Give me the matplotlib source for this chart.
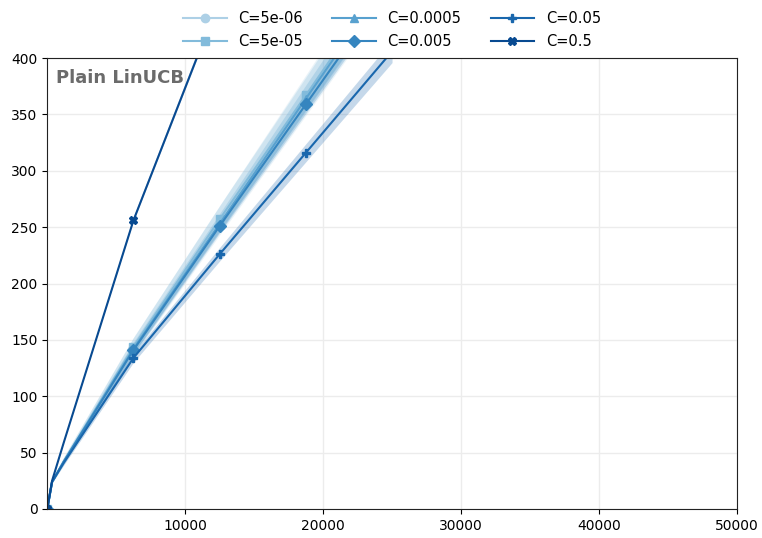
import numpy as np
import matplotlib
matplotlib.use('Agg')
import matplotlib.pyplot as plt

# checkpoints (time steps) and mean regret per exploration constant
steps = [0, 350, 1200, 6250, 12500, 18750, 25000]
labels = ['C=5e-06', 'C=5e-05', 'C=0.0005', 'C=0.005', 'C=0.05', 'C=0.5']
regret_5e6 = [0, 24, 42, 143, 255, 366, 477]
regret_5e5 = [0, 24, 42, 144, 257, 367, 478]
regret_5e4 = [0, 24, 42, 142, 253, 364, 474]
regret_5e3 = [0, 24, 42, 141, 251, 359, 467]
regret_5e2 = [0, 24, 41, 134, 226, 316, 406]
regret_5e1 = [0, 25, 59, 256, 452, 640, 830]
std_5e6 = [0, 1, 3, 8, 13, 18, 23]
std_5e5 = [0, 1, 3, 7, 11, 15, 19]
std_5e4 = [0, 1, 2, 5, 8, 11, 14]
std_5e3 = [0, 1, 2, 4, 6, 8, 10]
std_5e2 = [0, 1, 2, 4, 6, 8, 10]
std_5e1 = [0, 1, 1, 2, 3, 4, 5]

means = [regret_5e6, regret_5e5, regret_5e4, regret_5e3, regret_5e2, regret_5e1]
stds = [std_5e6, std_5e5, std_5e4, std_5e3, std_5e2, std_5e1]
markers = ['o', 's', '^', 'D', 'P', 'X']
colors = plt.cm.Blues(np.linspace(0.33, 0.9, 6))

fig, ax = plt.subplots(figsize=(7.62, 5.38), dpi=100)
fig.subplots_adjust(left=0.062, right=0.967, bottom=0.054, top=0.892)

x = np.array(steps)
for m, s, lab, mk, c in zip(means, stds, labels, markers, colors):
    m = np.array(m, dtype=float)
    s = np.array(s, dtype=float)
    ax.fill_between(x, m - s, m + s, color=c, alpha=0.25, linewidth=0)
    ax.plot(x, m, color=c, marker=mk, markersize=6, markevery=[0, 3, 4, 5, 6],
            linewidth=1.5, label=lab)

ax.set_xlim(0, 50000)
ax.set_ylim(0, 400)
ax.set_xticks([10000, 20000, 30000, 40000, 50000])
ax.set_yticks(np.arange(0, 401, 50))
ax.tick_params(labelsize=10)
ax.grid(True, color='#ececec', linewidth=1)
ax.set_axisbelow(True)
for sp in ax.spines.values():
    sp.set_color('#222222')

ax.text(0.012, 0.975, 'Plain LinUCB', transform=ax.transAxes, ha='left', va='top',
        fontsize=13, fontweight='bold', color='#6b6b6b')

ax.legend(loc='lower center', bbox_to_anchor=(0.5, 0.99), ncol=3, frameon=False,
          fontsize=10.5, handlelength=3, columnspacing=2.0, labelspacing=0.6)

fig.savefig('out.png', dpi=100)
